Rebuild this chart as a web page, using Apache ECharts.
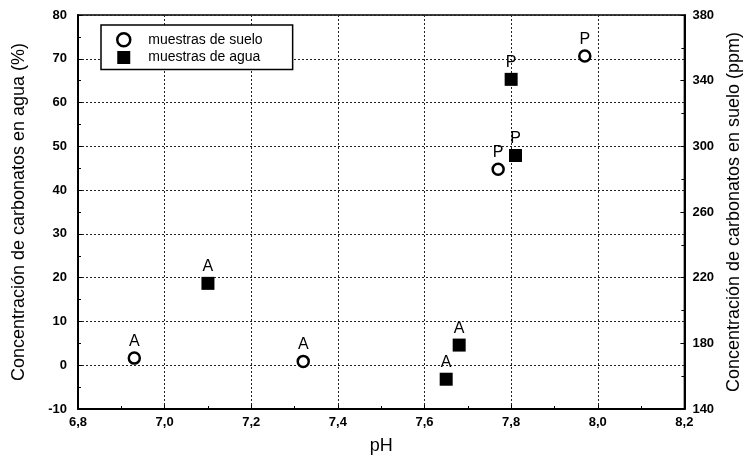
<!DOCTYPE html>
<html>
<head>
<meta charset="utf-8">
<script src="https://cdn.jsdelivr.net/npm/echarts@6/dist/echarts.min.js"></script>
<style>
    html, body { margin: 0; padding: 0; background: #fff; }
    #chart { width: 751px; height: 468px; }
</style>
</head>
<body>
<div id="chart"></div>
<script>
    // muestras de suelo (eje derecho, ppm)
    var soilPH = [6.93, 7.32, 7.77, 7.97];
    var soilPPM = [171, 169, 286, 355];
    var soilTag = ['A', 'A', 'P', 'P'];

    // muestras de agua (eje izquierdo, %)
    var waterPH = [7.10, 7.65, 7.68, 7.80, 7.81];
    var waterPct = [18.7, -3.2, 4.6, 65.3, 47.9];
    var waterTag = ['A', 'A', 'A', 'P', 'P'];

    var xTicks = [6.8, 7.0, 7.2, 7.4, 7.6, 7.8, 8.0, 8.2];
    var leftTicks = [-10, 0, 10, 20, 30, 40, 50, 60, 70, 80];
    var rightTicks = [140, 180, 220, 260, 300, 340, 380];

    var FONT = '"Liberation Sans", Arial, sans-serif';

    function pairs(xs, ys, tags) {
        var out = [];
        for (var i = 0; i < xs.length; i++) {
            out.push({value: [xs[i], ys[i]], tag: tags[i]});
        }
        return out;
    }

    var tickLabel = {color: '#000', fontFamily: FONT, fontWeight: 'bold', fontSize: 13};
    var titleStyle = {color: '#000', fontFamily: FONT, fontSize: 18};
    var pointLabel = {
        show: true, position: 'top', distance: 2, color: '#000',
        fontFamily: FONT, fontSize: 16,
        formatter: function (p) { return p.data.tag; }
    };

    var chart = echarts.init(document.getElementById('chart'));
    chart.setOption({
        animation: false,
        grid: {left: 78, right: 64, top: 15, bottom: 59, show: true, borderColor: '#000', borderWidth: 1.5},
        legend: {
            orient: 'vertical', left: 101, top: 25,
            padding: [7, 30, 5, 15], itemGap: 3, itemWidth: 13, itemHeight: 13,
            borderColor: '#000', borderWidth: 1.5, backgroundColor: '#fff',
            textStyle: {color: '#000', fontFamily: FONT, fontSize: 14, padding: [0, 0, 0, 13]},
            data: [
                {name: 'muestras de suelo', icon: 'circle',
                    itemStyle: {color: '#fff', borderColor: '#000', borderWidth: 2.5}},
                {name: 'muestras de agua', icon: 'rect',
                    itemStyle: {color: '#000', borderWidth: 0}}
            ]
        },
        xAxis: {
            type: 'value', min: xTicks[0], max: xTicks[xTicks.length - 1], interval: 0.2,
            name: 'pH', nameLocation: 'middle', nameGap: 28,
            nameTextStyle: titleStyle,
            axisLine: {onZero: false, lineStyle: {color: '#000', width: 2}},
            axisTick: {inside: true, length: 4, lineStyle: {color: '#000'}},
            minorTick: {show: true, splitNumber: 2, length: 3, lineStyle: {color: '#000'}},
            axisLabel: Object.assign({margin: 7, formatter: function (v) { return v.toFixed(1).replace('.', ','); }}, tickLabel),
            splitLine: {show: true, lineStyle: {color: '#222', type: [2, 2], width: 1}}
        },
        yAxis: [{
            type: 'value', min: leftTicks[0], max: leftTicks[leftTicks.length - 1], interval: 10,
            name: 'Concentración de carbonatos en agua (%)', nameLocation: 'middle', nameGap: 50,
            nameTextStyle: titleStyle,
            axisLine: {show: true, onZero: false, lineStyle: {color: '#000', width: 2}},
            axisTick: {show: true, inside: true, length: 4, lineStyle: {color: '#000'}},
            minorTick: {show: true, splitNumber: 2, length: 3, lineStyle: {color: '#000'}},
            axisLabel: Object.assign({margin: 11}, tickLabel),
            splitLine: {show: true, lineStyle: {color: '#222', type: [2, 2], width: 1}}
        }, {
            type: 'value', position: 'right', min: rightTicks[0], max: rightTicks[rightTicks.length - 1], interval: 40,
            name: 'Concentración de carbonatos en suelo (ppm)', nameLocation: 'middle', nameGap: 40,
            nameTextStyle: titleStyle,
            axisLine: {show: true, onZero: false, lineStyle: {color: '#000', width: 2}},
            axisTick: {show: true, inside: true, length: 4, lineStyle: {color: '#000'}},
            minorTick: {show: true, splitNumber: 2, length: 3, lineStyle: {color: '#000'}},
            axisLabel: Object.assign({margin: 8}, tickLabel),
            splitLine: {show: false}
        }],
        series: [{
            name: 'muestras de suelo', type: 'scatter', yAxisIndex: 1,
            symbol: 'circle', symbolSize: 11,
            itemStyle: {color: '#fff', borderColor: '#000', borderWidth: 2.5, opacity: 1},
            label: pointLabel,
            data: pairs(soilPH, soilPPM, soilTag)
        }, {
            name: 'muestras de agua', type: 'scatter', yAxisIndex: 0,
            symbol: 'rect', symbolSize: 13,
            itemStyle: {color: '#000', opacity: 1},
            label: pointLabel,
            data: pairs(waterPH, waterPct, waterTag)
        }]
    });
</script>
</body>
</html>
